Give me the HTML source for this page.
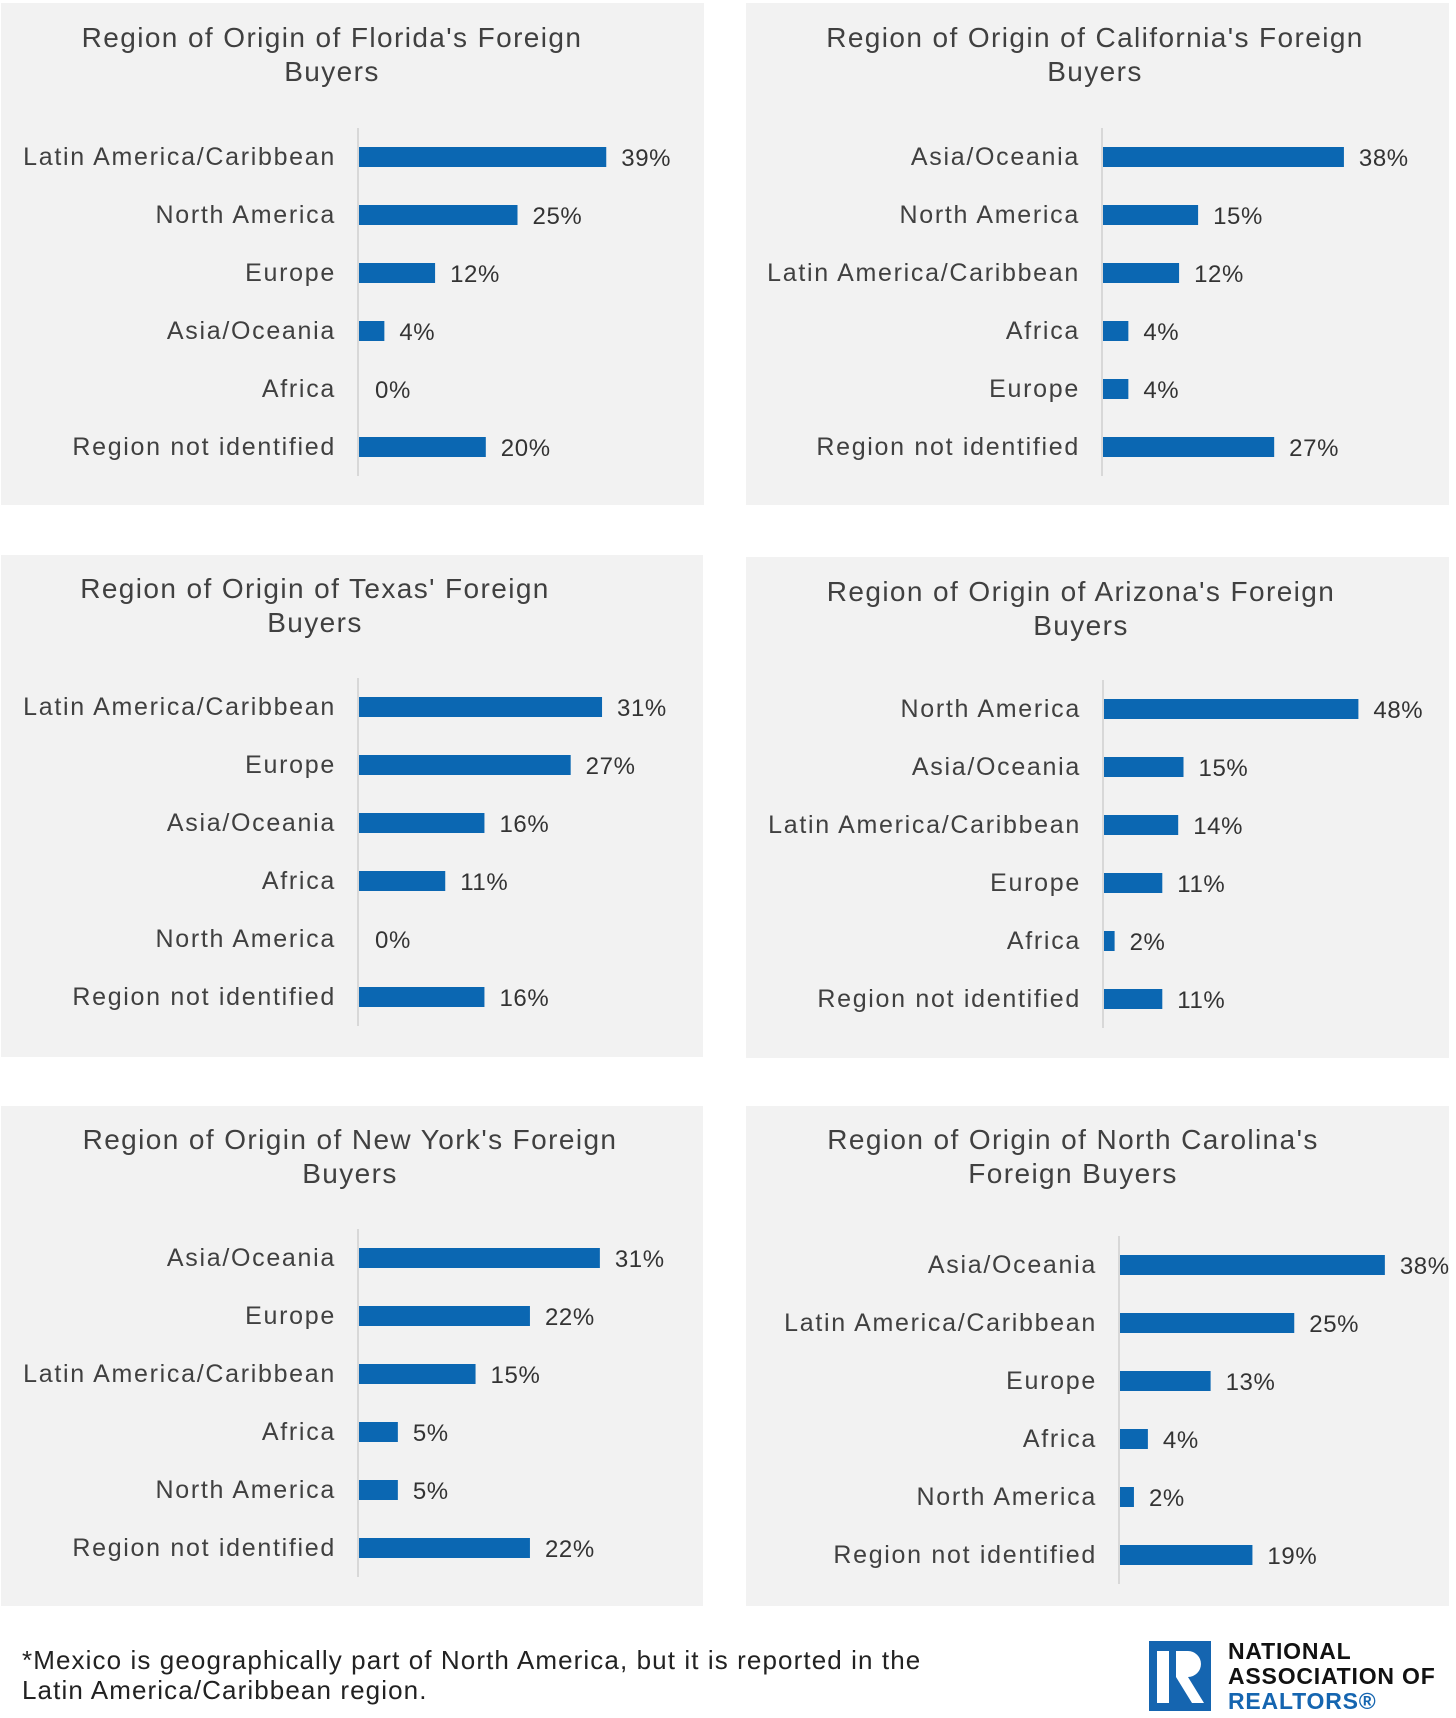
<!DOCTYPE html>
<html><head><meta charset="utf-8"><style>
body{margin:0;background:#fff}
svg{display:block;font-family:"Liberation Sans",sans-serif}
</style></head><body>
<svg id="root" width="1456" height="1718" viewBox="0 0 1456 1718">
<g fill="#222" font-size="26" letter-spacing="1.1">
<text x="22" y="1669">*Mexico is geographically part of North America, but it is reported in the</text>
<text x="22" y="1699">Latin America/Caribbean region.</text>
</g>
<g>
<rect x="1149" y="1641" width="62" height="70" fill="#1565b0"/>
<rect x="1157" y="1651" width="12" height="52" fill="#fff"/>
<path d="M1174 1651 h14 a13 13 0 0 1 0 26 l16 26 h-12 l-16 -26 v-26z" fill="#fff"/>
<text x="1228" y="1659" font-size="23" font-weight="bold" fill="#111" letter-spacing="0.8">NATIONAL</text>
<text x="1228" y="1684" font-size="23" font-weight="bold" fill="#111" letter-spacing="0.8">ASSOCIATION OF</text>
<text x="1228" y="1709" font-size="23" font-weight="bold" fill="#1565b0" letter-spacing="0.8">REALTORS®</text>
</g>
<g>
<circle cx="1432" cy="1431" r="27" fill="#fff"/>
<circle cx="1430" cy="1431" r="12" fill="#2dbe60"/>
</g>
</svg>
<script>
const flCats=["Latin America/Caribbean","North America","Europe","Asia/Oceania","Africa","Region not identified"];
const flVals=[39,25,12,4,0,20];
const caCats=["Asia/Oceania","North America","Latin America/Caribbean","Africa","Europe","Region not identified"];
const caVals=[38,15,12,4,4,27];
const txCats=["Latin America/Caribbean","Europe","Asia/Oceania","Africa","North America","Region not identified"];
const txVals=[31,27,16,11,0,16];
const azCats=["North America","Asia/Oceania","Latin America/Caribbean","Europe","Africa","Region not identified"];
const azVals=[48,15,14,11,2,11];
const nyCats=["Asia/Oceania","Europe","Latin America/Caribbean","Africa","North America","Region not identified"];
const nyVals=[31,22,15,5,5,22];
const ncCats=["Asia/Oceania","Latin America/Caribbean","Europe","Africa","North America","Region not identified"];
const ncVals=[38,25,13,4,2,19];

const NS="http://www.w3.org/2000/svg";
const root=document.getElementById('root');
function mk(tag,attrs,parent){const e=document.createElementNS(NS,tag);for(const k in attrs)e.setAttribute(k,attrs[k]);parent.appendChild(e);return e;}
const panels=[
 {id:"florida",t1:"Region of Origin of Florida's Foreign",t2:"Buyers",px:1,py:3,pw:703,ph:502,tx:332,ty:38,ax:358,y0:157,ppp:6.34,cats:flCats,vals:flVals},
 {id:"california",t1:"Region of Origin of California's Foreign",t2:"Buyers",px:746,py:3,pw:703,ph:502,tx:1095,ty:38,ax:1102,y0:157,ppp:6.34,cats:caCats,vals:caVals},
 {id:"texas",t1:"Region of Origin of Texas' Foreign",t2:"Buyers",px:1,py:555,pw:702,ph:502,tx:315,ty:589,ax:358,y0:707,ppp:7.84,cats:txCats,vals:txVals},
 {id:"arizona",t1:"Region of Origin of Arizona's Foreign",t2:"Buyers",px:746,py:557,pw:703,ph:501,tx:1081,ty:592,ax:1103,y0:709,ppp:5.3,cats:azCats,vals:azVals},
 {id:"new-york",t1:"Region of Origin of New York's Foreign",t2:"Buyers",px:1,py:1106,pw:702,ph:500,tx:350,ty:1140,ax:358,y0:1258,ppp:7.77,cats:nyCats,vals:nyVals},
 {id:"north-carolina",t1:"Region of Origin of North Carolina's",t2:"Foreign Buyers",px:746,py:1106,pw:703,ph:500,tx:1073,ty:1140,ax:1119,y0:1265,ppp:6.97,cats:ncCats,vals:ncVals}
];
const step=58;
panels.forEach(p=>{
 const g=mk('g',{},root);
 
 
 const bg=mk('rect',{x:p.px,y:p.py,width:p.pw,height:p.ph,fill:'#f2f2f2'},g);
 
 
 const t=mk('text',{x:p.tx,y:p.ty+9,'text-anchor':'middle','font-size':28,'letter-spacing':1.4,fill:'#404040'},g);
 
 
 mk('tspan',{x:p.tx},t).textContent=p.t1;
 mk('tspan',{x:p.tx,dy:34},t).textContent=p.t2;
 const yc=i=>p.y0+i*step;
 const xs=v=>p.ax+1+v*p.ppp;
 const axis=mk('line',{x1:p.ax,x2:p.ax,y1:yc(0)-29,y2:yc(p.cats.length-1)+29,stroke:'#d0d0d0','stroke-width':1.5},g);
 
 
 p.cats.forEach((c,i)=>{
  const l=mk('text',{x:p.ax-22,y:yc(i)+8,'text-anchor':'end','font-size':25,'letter-spacing':1.7,fill:'#404040'},g);
  l.textContent=c;
  
  
  const v=p.vals[i];
  if(v>0){
   const b=mk('rect',{x:p.ax+1,y:yc(i)-10,width:xs(v)-p.ax-1,height:20,fill:'#0b67b2'},g);
   
   
  }
  const vl=mk('text',{x:xs(v)+(v>0?15:16),y:yc(i)+9,'font-size':24,'letter-spacing':0.6,fill:'#333'},g);
  vl.textContent=v+'%';
  
  
 });
});
</script>
</body></html>
